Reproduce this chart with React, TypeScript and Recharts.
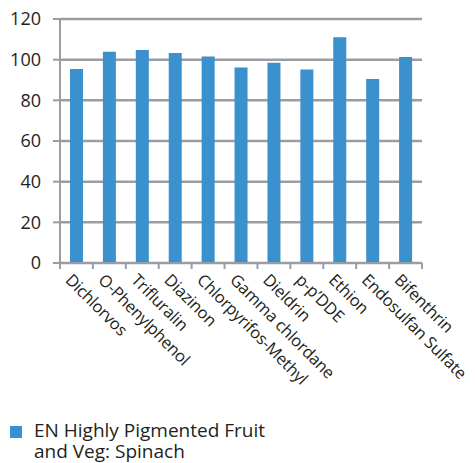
import { BarChart, Bar, XAxis, YAxis, CartesianGrid, Legend } from 'recharts';

const categories = [
  'Dichlorvos',
  'O-Phenylphenol',
  'Trifluralin',
  'Diazinon',
  'Chlorpyrifos-Methyl',
  'Gamma chlordane',
  'Dieldrin',
  'p-p\u2019DDE',
  'Ethion',
  'Endosulfan Sulfate',
  'Bifenthrin',
];
const spinach = [95.4, 103.9, 104.8, 103.3, 101.6, 96.1, 98.5, 95.2, 111.0, 90.5, 101.3];
const yTicks = [0, 20, 40, 60, 80, 100, 120];
const seriesName = 'EN Highly Pigmented Fruit and Veg: Spinach';

const data = categories.map((name, i) => ({ name, value: spinach[i] }));

const GRAY = '#9a9ea4';
const BLUE = '#3a91cd';
const FONT = '"Open Sans", sans-serif';

function CategoryTick(props: any) {
  const { x, y, payload, index } = props;
  const half = payload.offset ?? 16.45;
  return (
    <g>
      <line x1={x - half} x2={x - half} y1={y} y2={y + 6} stroke={GRAY} strokeWidth={2} />
      {index === categories.length - 1 && (
        <line x1={x + half} x2={x + half} y1={y} y2={y + 6} stroke={GRAY} strokeWidth={2} />
      )}
      <text
        x={0}
        y={0}
        transform={`translate(${x - 12},${y + 18}) rotate(45)`}
        textAnchor="start"
        fontSize={16.5}
        letterSpacing={-0.2}
        fontFamily={FONT}
        fill="#231f20"
      >
        {payload.value}
      </text>
    </g>
  );
}

function LegendContent() {
  return (
    <div style={{ display: 'flex', alignItems: 'flex-start', fontFamily: FONT, fontSize: 19, color: '#231f20', lineHeight: '21px' }}>
      <span style={{ display: 'inline-block', width: 12, height: 12, background: BLUE, marginTop: 6, marginRight: 12, flexShrink: 0 }} />
      <span style={{ width: 245 }}>{seriesName}</span>
    </div>
  );
}

export default function App() {
  return (
    <div style={{ position: 'absolute', left: 0, top: 0 }}>
      <BarChart width={475} height={463} data={data} margin={{ top: 19, right: 53, left: 0, bottom: 50 }}>
        <CartesianGrid vertical={false} stroke={GRAY} strokeWidth={2.5} />
        <XAxis
          dataKey="name"
          interval={0}
          height={150}
          axisLine={{ stroke: GRAY, strokeWidth: 2 }}
          tickLine={false}
          tickSize={0}
          tickMargin={0}
          tick={<CategoryTick />}
        />
        <YAxis
          width={60}
          domain={[0, 120]}
          ticks={yTicks}
          interval={0}
          axisLine={{ stroke: GRAY, strokeWidth: 2 }}
          tickLine={{ stroke: GRAY, strokeWidth: 2 }}
          tickSize={7}
          tickMargin={12}
          tick={{ fontSize: 18, fontFamily: FONT, fill: '#231f20' }}
        />
        <Legend
          layout="horizontal"
          verticalAlign="middle"
          align="center"
          wrapperStyle={{ top: 420, left: 10, width: 300 }}
          content={<LegendContent />}
        />
        <Bar dataKey="value" name={seriesName} fill={BLUE} barSize={13} isAnimationActive={false} />
      </BarChart>
    </div>
  );
}
